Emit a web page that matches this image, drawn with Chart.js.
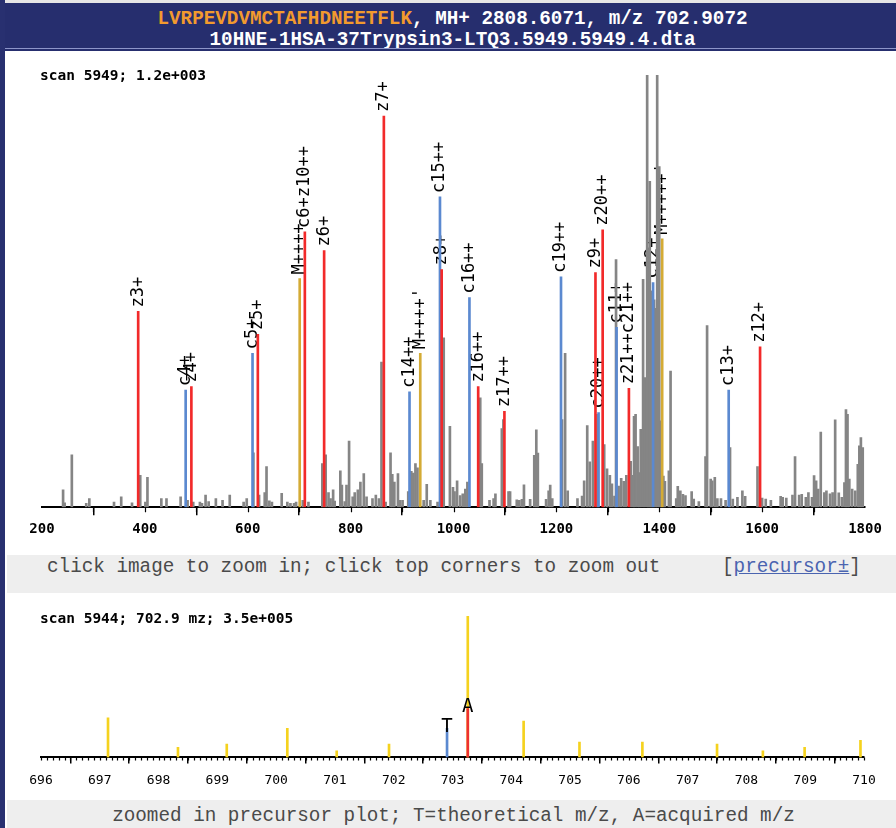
<!DOCTYPE html>
<html>
<head>
<meta charset="utf-8">
<script src="https://cdn.jsdelivr.net/npm/chart.js@4/dist/chart.umd.min.js"></script>
<style>
  html, body { margin: 0; padding: 0; }
  body { width: 896px; height: 828px; position: relative; overflow: hidden; background: #fff; }
  .abs { position: absolute; }
  #stripe { left: 0; top: 0; width: 5px; height: 828px; background: #283070; }
  #topedge { left: 5px; top: 0; width: 891px; height: 3px; background: #e6e6e6; }
  #hdr { left: 5px; top: 3px; width: 891px; height: 48px; background: #262e6e; }
  #hdrline { left: 5px; top: 48px; width: 891px; height: 1px; background: #8d95c9; }
  .hl { position: absolute; left: 2px; width: 891px; text-align: center; white-space: pre;
        font: bold 19.3px "Liberation Mono", monospace; color: #fff; line-height: 22px; }
  .pep { color: #f29a2e; }
  .band { background: #eeeeee; }
  .bandtxt { position: absolute; white-space: pre; font: 19.3px "Liberation Mono", monospace;
             color: #4a4a4a; line-height: 22px; }
  .bandtxt a { color: #4a64b0; text-decoration: underline; }
  .scan { position: absolute; white-space: pre; font: bold 14.5px "DejaVu Sans Mono", monospace;
          color: #000; line-height: 18px; z-index: 2; }
  canvas { display: block; }
</style>
</head>
<body>
<div id="stripe" class="abs"></div>
<div id="topedge" class="abs"></div>
<div id="hdr" class="abs">
  <div class="hl" style="top:5px"><span class="pep">LVRPEVDVMCTAFHDNEETFLK</span>, MH+ 2808.6071, m/z 702.9072</div>
  <div class="hl" style="top:26px">10HNE-1HSA-37Trypsin3-LTQ3.5949.5949.4.dta</div>
</div>
<div id="hdrline" class="abs"></div>

<div class="abs" style="left:5px;top:52px;width:891px;height:503px;">
  <canvas id="spec" width="891" height="503"></canvas>
</div>
<div class="scan" style="left:40px;top:66px;">scan 5949; 1.2e+003</div>

<div class="abs band" style="left:7px;top:555px;width:889px;height:38px;">
  <div class="bandtxt" style="left:40px;top:1px;">click image to zoom in; click top corners to zoom out</div>
  <div class="bandtxt" style="left:715px;top:1px;">[<a>precursor±</a>]</div>
</div>

<div class="abs" style="left:5px;top:593px;width:891px;height:207px;">
  <canvas id="prec" width="891" height="207"></canvas>
</div>
<div class="scan" style="left:40px;top:609px;">scan 5944; 702.9 mz; 3.5e+005</div>

<div class="abs band" style="left:7px;top:800px;width:889px;height:28px;">
  <div class="bandtxt" style="left:0;width:893px;text-align:center;top:5px;">zoomed in precursor plot; T=theoretical m/z, A=acquired m/z</div>
</div>

<script>
// ---------- MS/MS spectrum, scan 5949 (relative intensity, % of full scale) ----------
const peakMz = [241,244,258,286,292,340,354,375,391,401,405,432,442,469.5,483,494,507,511,518,524,538,551,565,592,598,
  611,622,633,636.5,642,647,666,677,683,690,694,707,718,745,751.5,757,761,766,769,780,783,788.6,792,797,804,808,814,819,825.6,
  831,842.5,849,855,860,868,877.6,881,885,892,896,901,912,918,922,926,930,942,948,955,969,981,993,999,1002,1007,1013,1018,
  1023,1027,1052,1055,1070,1078,1081.5,1094,1097,1107,1110,1123,1128,1133,1137,1149,1157,1161,1164,1180,1185,1188,1192,
  1211,1217,1222,1241,1250,1254,1260,1265,1271,1280,1293,1298.5,1304,1308,1313,1316,1321,1326,1331,1336,1344.5,1349,1351,
  1354,1358,1361,1364,1368.6,1372,1376.5,1379,1381.6,1384,1386,1390,1393,1396,1400,1403,1408,1411,1418.7,1422,1433,1436,
  1441,1446,1451,1463,1467,1477,1490,1493,1500,1503,1508,1513,1520,1529,1537.6,1543,1552,1561.6,1567,1591,1600,1607,1617,
  1636,1640,1647,1659,1664,1672,1677,1685,1690,1697,1701,1705,1709,1714,1721,1725,1732,1737,1742,1749,1755,1760,1763,
  1766,1769.5,1775,1781,1786,1789,1792,1795.6];
const peakInt = [4.0,1.0,12.1,0.9,2.0,1.2,2.4,1.0,7.4,1.2,6.9,2.0,2.0,2.4,1.6,1.2,1.2,0.9,2.8,1.3,2.0,1.6,2.8,1.2,2.0,
  12.6,2.8,3.4,9.4,1.5,1.2,3.2,1.2,0.9,0.9,1.2,1.6,1.2,10.1,12.1,3.4,2.0,4.0,1.4,8.4,5.1,1.3,5.1,15.3,2.4,3.4,4.0,5.8,7.8,
  2.4,2.0,2.8,2.0,33.6,1.2,12.6,7.6,5.8,7.8,1.6,1.6,3.6,8.3,7.9,10.1,9.1,1.6,5.3,1.6,1.2,39.2,18.7,4.6,3.6,6.1,2.7,3.1,
  4.2,5.8,25.3,10.1,1.6,2.0,3.1,18.2,20.3,3.6,3.6,1.7,1.6,1.8,5.2,1.8,12.0,17.9,12.5,1.8,3.8,5.1,2.0,
  20.3,35.6,3.8,2.0,2.6,6.1,18.9,10.5,15.3,21.5,14.5,8.9,7.4,5.4,2.6,57.3,4.9,6.7,6.0,7.4,10.6,7.4,21.0,
  21.5,14.0,8.0,18.0,52.7,30.0,140,60.0,75.4,50.0,50.0,48.0,46.0,140,78.8,20.0,7.2,6.0,8.4,31.5,2.0,4.8,
  3.8,3.0,2.7,3.6,1.9,1.3,11.7,42.0,6.5,6.1,6.9,2.0,2.0,1.6,13.8,1.9,2.3,3.8,2.5,9.4,2.1,1.9,1.6,
  2.5,2.3,2.1,2.8,11.7,2.8,3.0,2.3,3.4,2.3,7.3,6.1,4.2,17.4,3.4,3.8,3.1,3.4,20.2,3.3,2.3,5.7,22.6,
  21.5,6.5,4.2,3.8,9.9,14.2,16.1,13.8];

// matched z-type fragments (red)
const zNames = ['z3+','z4+','z5+','c6+z10++','z6+','z7+','z8+','z16++','z17++','z9+','z20++','z21++c21++','z12+'];
const zMz    = [387,490.4,619.6,711,748.5,864.6,977,1048,1099,1276,1290,1341,1596];
const zInt   = [45.3,27.9,40.0,63.7,59.4,90.5,55.0,27.9,22.2,54.3,64.2,27.5,37.1];

// matched c-type fragments (blue)
const cNames = ['c4+','c5+','c14++','c15++','c16++','c19++','c20++','c11+','c12+','c13+'];
const cMz    = [479.3,609.3,914.5,973.7,1031,1209,1282,1317,1388,1535];
const cInt   = [27.1,35.6,26.7,71.8,48.5,53.3,21.9,41.6,52.0,27.1];

// precursor-related ions (gold)
const mNames = ['M++++',"M++++'","M+++++'"];
const mMz    = [701,935.4,1405.7];
const mInt   = [52.9,35.6,62.1];

const specTicks = [200,400,600,800,1000,1200,1400,1600,1800];

// ---------- precursor window, scan 5944 ----------
const isoMz  = [697.14,698.33,699.16,700.19,701.03,701.92,703.26,704.21,705.16,706.23,707.5,708.28,708.99,709.94];
const isoInt = [28,7.1,9.4,20.5,4.7,9.4,100,25.6,10.8,10.8,9.4,4.7,7.1,12];
const theoMz = [702.9072], theoInt = [20.5], theoName = ['T'];
const acqMz  = [703.26],   acqInt  = [34.6], acqName  = ['A'];

const pts = (xs, ys) => xs.map((x, i) => ({ x: x, y: ys[i] }));

function barSet(xs, ys, color, order, names) {
  return { data: pts(xs, ys), backgroundColor: color, borderWidth: 0, barThickness: 2,
           grouped: false, order: order, ionNames: names || null };
}

// labels drawn beneath the bars, rotated, starting just above each bar top
const ionLabels = {
  id: 'ionLabels',
  beforeDatasetsDraw(chart) {
    const ctx = chart.ctx;
    chart.data.datasets.forEach((ds, i) => {
      if (!ds.ionNames) return;
      chart.getDatasetMeta(i).data.forEach((bar, j) => {
        ctx.save();
        ctx.translate(bar.x, bar.y - 4);
        ctx.rotate(-Math.PI / 2);
        ctx.font = '17px "DejaVu Sans Mono"';
        ctx.fillStyle = '#000';
        ctx.textAlign = 'left';
        ctx.textBaseline = 'middle';
        ctx.fillText(ds.ionNames[j], 0, 0);
        ctx.restore();
      });
    });
  }
};

// upright labels above the marker lines
const markLabels = {
  id: 'markLabels',
  afterDatasetsDraw(chart) {
    const ctx = chart.ctx;
    chart.data.datasets.forEach((ds, i) => {
      if (!ds.ionNames) return;
      chart.getDatasetMeta(i).data.forEach((bar, j) => {
        ctx.save();
        ctx.font = '19px "DejaVu Sans Mono"';
        ctx.fillStyle = '#000';
        ctx.textAlign = 'center';
        ctx.textBaseline = 'alphabetic';
        ctx.fillText(ds.ionNames[j], bar.x, bar.y + 4);
        ctx.restore();
      });
    });
  }
};

// short minor ticks along the x axis
function minorTicks(step, from, to, len) {
  return {
    id: 'minorTicks',
    afterDraw(chart) {
      const sx = chart.scales.x, ctx = chart.ctx, y0 = chart.chartArea.bottom;
      ctx.save();
      ctx.strokeStyle = '#000';
      ctx.lineWidth = 1.2;
      ctx.beginPath();
      for (let k = Math.round(from / step); k <= Math.round(to / step); k++) {
        const v = k * step;
        const px = Math.round(sx.getPixelForValue(v)) + 0.5;
        ctx.moveTo(px, y0);
        ctx.lineTo(px, y0 + len);
      }
      ctx.stroke();
      ctx.restore();
    }
  };
}

function xAxis(min, max, step, tickLen, font, pad) {
  return {
    type: 'linear', min: min, max: max, offset: false,
    ticks: { stepSize: step, autoSkip: false, maxRotation: 0, color: '#000', font: font, padding: pad,
             callback: v => String(v) },
    grid: { drawOnChartArea: false, drawTicks: true, tickLength: tickLen, color: '#000', lineWidth: 1.5 },
    border: { display: true, color: '#000', width: 2 }
  };
}

Chart.defaults.animation = false;

new Chart(document.getElementById('spec'), {
  type: 'bar',
  data: {
    datasets: [
      barSet(zMz, zInt, '#f22a2a', 1, zNames),
      barSet(cMz, cInt, '#5b89d0', 1, cNames),
      barSet(mMz, mInt, '#d4ab35', 1, mNames),
      barSet(peakMz, peakInt, '#858585', 2)
    ]
  },
  options: {
    responsive: false,
    animation: false,
    layout: { padding: { left: 37, right: 31, top: 23, bottom: 11 } },
    scales: {
      x: Object.assign(xAxis(200, 1800, 200, 8, { family: 'DejaVu Sans Mono', size: 14, weight: 'bold' }, 6),
                       { afterBuildTicks: s => { s.ticks = specTicks.map(v => ({ value: v })); } }),
      y: { display: false, min: 0, max: 100 }
    },
    plugins: { legend: { display: false }, tooltip: { enabled: false } }
  },
  plugins: [ionLabels, minorTicks(100, 300, 1700, 5)]
});

new Chart(document.getElementById('prec'), {
  type: 'bar',
  data: {
    datasets: [
      barSet(acqMz, acqInt, '#ee3030', 1, acqName),
      barSet(theoMz, theoInt, '#5b89d0', 1, theoName),
      barSet(isoMz, isoInt, '#f5d21e', 2)
    ]
  },
  options: {
    responsive: false,
    animation: false,
    layout: { padding: { left: 36, right: 32, top: 23, bottom: 3 } },
    scales: {
      x: xAxis(696, 710, 1, 6, { family: 'DejaVu Sans Mono', size: 13 }, 9),
      y: { display: false, min: 0, max: 100 }
    },
    plugins: { legend: { display: false }, tooltip: { enabled: false } }
  },
  plugins: [markLabels, minorTicks(0.1, 696, 710, 3)]
});
</script>
</body>
</html>
